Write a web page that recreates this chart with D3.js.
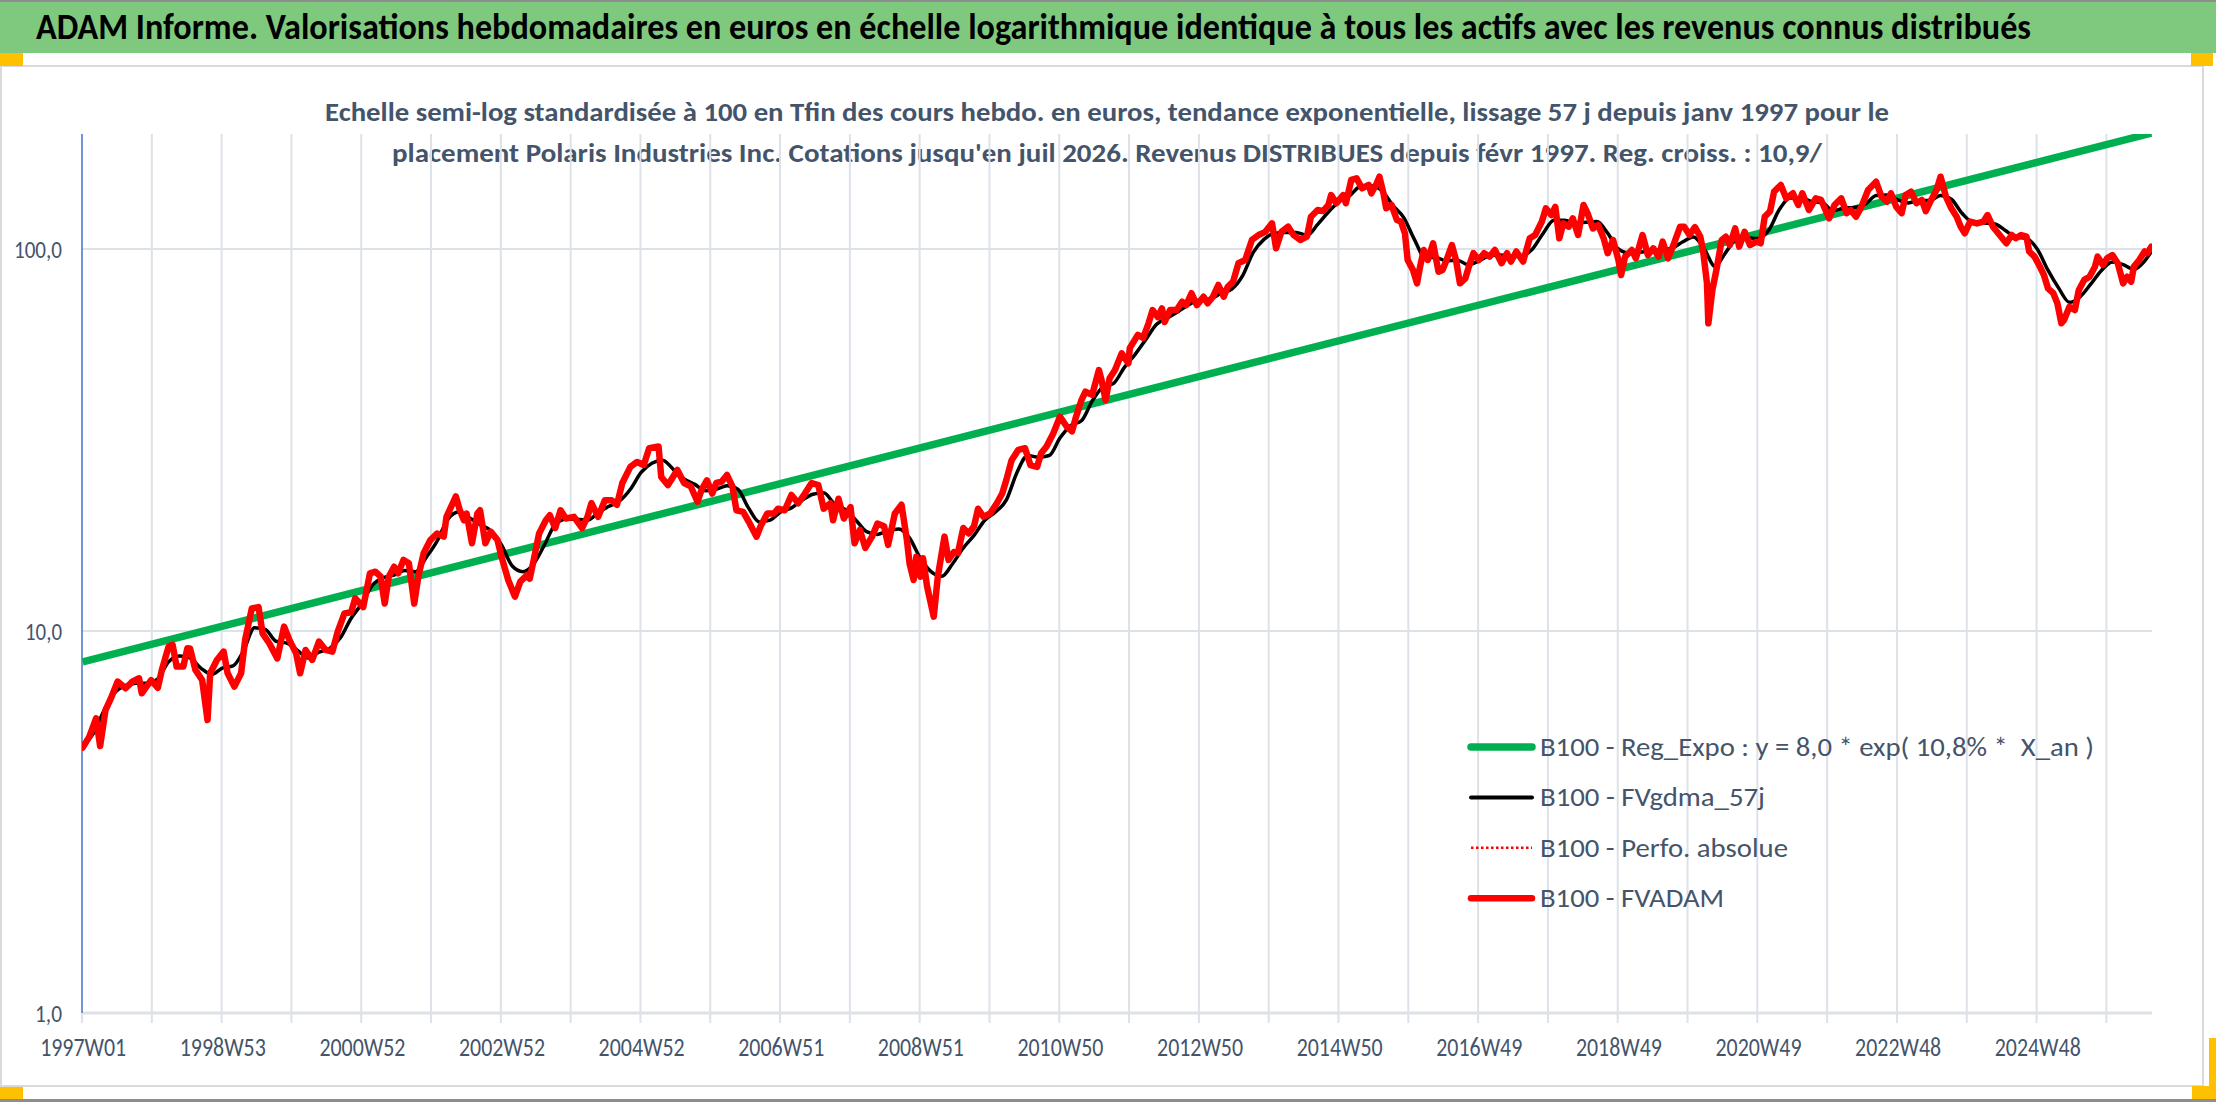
<!DOCTYPE html>
<html>
<head>
<meta charset="utf-8">
<script src="https://cdn.jsdelivr.net/npm/d3@7"></script>
<style>
  html, body { margin: 0; padding: 0; background: #fff; }
  svg { display: block; }
  text { font-family: Carlito, "Liberation Sans Narrow", "Liberation Sans", Arial, sans-serif; white-space: pre; }
</style>
</head>
<body>
<svg id="viz" width="2216" height="1102"></svg>
<script>
/** ---------- data ---------- */
const titleText = "ADAM Informe. Valorisations hebdomadaires en euros en échelle logarithmique identique à tous les actifs avec les revenus connus distribués";
const subtitleLines = [
  "Echelle semi-log standardisée à 100 en Tfin des cours hebdo. en euros, tendance exponentielle, lissage 57 j depuis janv 1997 pour le",
  "placement Polaris Industries Inc. Cotations jusqu'en juil 2026. Revenus DISTRIBUES depuis févr 1997. Reg. croiss. : 10,9/"
];

// category axis: weeks since 1997W01, one label every 104 weeks
const weekCount = 1542;
const tickLabels = ["1997W01", "1998W53", "2000W52", "2002W52", "2004W52", "2006W51", "2008W51", "2010W50",
  "2012W50", "2014W50", "2016W49", "2018W49", "2020W49", "2022W48", "2024W48"];
const yTicks = [1, 10, 100];

const legendLabels = [
  "B100 - Reg_Expo : y = 8,0 * exp( 10,8% *  X_an )",
  "B100 - FVgdma_57j",
  "B100 - Perfo. absolue",
  "B100 - FVADAM"
];

// [week index, value]
const regExpoPoints = [[0, 8.3], [1541, 201]];

const fvadamPoints = [
  [0,4.95],[5,5.29],[10,5.91],[13,5.0],[17,6.21],[21,6.66],[26,7.37],[32,7.08],[37,7.37],[42,7.52],[44,6.87],[51,7.44],
  [56,7.1],[59,7.91],[64,9.1],[67,9.2],[70,8.07],[75,8.07],[78,9.01],[80,9.0],[84,7.91],[89,7.44],[93,5.85],[95,7.75],
  [100,8.4],[105,8.83],[108,7.75],[113,7.15],[118,7.75],[121,9.47],[126,11.46],[131,11.55],[134,9.86],[139,9.29],[145,8.48],
  [150,10.27],[154,9.47],[159,8.74],[162,7.75],[166,8.92],[171,8.4],[176,9.38],[181,8.92],[186,8.83],[190,9.96],[195,11.12],
  [200,11.2],[203,12.18],[209,11.55],[214,14.16],[218,14.3],[222,13.87],[225,11.8],[228,13.87],[232,14.73],[235,14.16],
  [239,15.35],[243,15.04],[247,11.8],[250,13.87],[254,15.97],[259,17.3],
  [264,18.0],[269,17.66],[271,19.9],[278,22.5],[281,20.7],[284,19.5],[286,20.3],[290,16.97],[294,20.3],[296,20.7],[300,16.97],
  [304,18.2],[309,17.3],[312,15.65],[317,13.6],[322,12.3],[326,13.47],[331,14.0],[333,13.7],[336,15.35],[340,18.0],[345,19.5],
  [348,20.1],[352,18.6],[356,20.7],[360,19.7],[366,19.9],[372,18.6],[376,19.9],[379,21.6],[384,19.9],[389,22.0],[394,22.0],
  [398,21.4],[402,24.4],[408,26.9],[413,27.7],[418,27.2],[422,30.1],[429,30.4],[431,25.3],[436,24.1],[443,26.4],[448,24.4],
  [453,23.9],[458,21.8],[461,23.4],[465,24.8],[469,22.9],[472,24.4],[476,24.6],[480,25.6],[484,23.9],[487,20.7],[492,20.5],
  [497,19.1],[502,17.66],[505,18.8],[510,20.3],[515,20.3],[518,20.9],
  [523,20.7],[528,22.7],[533,21.6],[538,22.9],[543,24.4],[548,24.1],[552,20.9],[557,21.6],[559,19.5],[563,22.2],[567,19.7],
  [572,21.1],[575,16.97],[579,18.4],[583,16.5],[588,17.66],[592,19.1],[597,18.8],[600,16.8],[605,20.3],[610,21.4],[614,17.3],
  [616,15.0],[619,13.6],[621,15.65],[624,13.87],[626,15.5],[629,13.1],[634,10.9],[637,13.87],[642,17.66],[645,15.35],[649,16.1],
  [652,16.0],[656,18.6],[660,18.0],[664,18.8],[667,20.9],[671,19.9],[676,20.3],[681,21.6],[685,22.9],[688,24.8],[692,28.0],
  [697,29.8],[702,30.1],[706,27.2],[711,26.9],[714,29.2],[718,30.4],[723,32.9],[728,36.4],[733,34.3],[737,33.3],[740,36.4],
  [744,40.2],[747,42.3],[752,41.5],[757,48.2],[759,45.4],[762,40.2],[765,45.9],[769,48.2],[774,53.3],[779,50.2],
  [780,55.0],[786,59.6],[790,58.5],[794,63.9],[797,69.2],[801,66.3],[804,69.9],[806,64.4],[810,69.2],[815,69.2],[819,72.8],
  [822,71.3],[826,76.6],[830,71.3],[835,75.0],[838,72.1],[842,75.0],[846,80.5],[850,75.0],[853,79.6],[857,82.1],[861,91.8],
  [866,93.6],[871,105.6],[876,108.8],[881,110.9],[886,116.7],[889,100.4],[893,110.9],[898,114.4],[902,108.8],[907,105.6],
  [912,107.7],[915,121.5],[920,126.5],[924,125.6],[928,130.4],[930,138.4],[934,131.8],[939,138.4],[941,131.8],[945,151.6],
  [949,153.1],[953,144.2],[958,147.1],[960,139.9],[964,148.6],[966,154.6],[969,139.9],[971,127.8],[975,130.4],[979,119.1],
  [982,118.0],[985,109.9],[987,93.6],[991,88.1],[994,81.3],[996,89.0],[999,99.4],[1002,93.6],[1006,103.5],[1010,87.2],
  [1013,88.1],[1016,93.6],[1020,102.4],[1023,93.6],[1026,81.3],[1030,83.8],[1033,90.8],[1036,97.5],[1040,93.6],
  [1044,97.5],[1048,95.5],[1052,99.4],[1057,91.8],[1061,97.5],[1064,92.7],[1068,98.5],[1073,92.7],[1078,106.7],[1082,108.8],
  [1087,118.0],[1090,127.8],[1094,122.7],[1097,128.9],[1100,106.7],[1103,116.7],[1107,114.4],[1110,120.3],[1114,108.8],
  [1118,130.4],[1121,124.1],[1125,113.2],[1129,115.6],[1133,106.7],[1136,97.5],[1140,105.6],[1144,93.6],[1146,85.5],[1149,95.5],
  [1154,99.4],[1157,94.5],[1162,108.8],[1166,96.4],[1170,100.4],[1174,95.5],[1177,104.5],[1181,94.5],[1185,102.4],[1190,114.4],
  [1193,114.4],[1197,108.8],[1201,114.1],[1205,107.7],[1207,99.4],[1210,81.3],[1211,63.9],[1214,78.1],[1217,88.1],[1221,105.6],
  [1224,107.7],[1227,102.4],[1231,113.2],[1234,101.4],[1238,110.9],[1242,102.4],[1247,104.5],[1250,103.5],[1253,121.5],
  [1257,125.6],[1260,141.3],[1265,147.1],[1269,135.7],[1274,139.9],[1278,130.4],[1281,139.9],[1286,126.5],[1291,135.7],[1295,134.4],
  [1301,120.3],[1305,130.4],[1310,135.7],[1314,124.1],[1317,126.5],[1321,121.5],[1325,128.9],[1330,142.7],[1336,150.0],
  [1340,137.1],[1344,133.0],[1347,139.9],[1351,128.9],[1355,124.1],[1358,138.4],[1362,141.3],[1366,131.8],[1370,134.4],
  [1373,125.6],[1377,134.4],[1381,142.7],[1384,154.6],[1388,137.1],[1392,127.8],[1396,121.5],[1399,114.4],[1402,109.9],
  [1406,118.0],[1411,116.7],[1416,118.0],[1419,122.7],[1423,114.4],[1428,108.8],[1433,103.5],[1437,108.8],[1440,106.7],
  [1444,108.8],[1448,107.7],[1450,98.5],[1454,95.5],[1458,89.9],[1461,85.5],[1464,78.9],[1468,76.6],[1471,72.1],[1474,63.9],
  [1476,65.2],[1480,70.6],[1484,69.2],[1487,78.1],[1491,83.0],[1495,84.6],[1499,89.9],[1501,95.5],[1505,90.8],[1508,94.5],
  [1512,96.4],[1516,91.8],[1520,81.3],[1523,84.6],[1526,82.1],[1528,89.9],[1532,93.6],[1536,98.5],[1538,97.5],[1541,101.4]
];

// smoothed series, mostly hidden under the red one
const fvgdmaPoints = [
  [0,5.0],[8,5.4],[16,6.2],[24,6.9],[32,7.2],[40,7.3],[48,7.3],[56,7.5],[64,8.3],[72,8.6],[80,8.5],[88,8.0],[96,7.7],
  [104,8.0],[112,8.1],[120,8.9],[128,10.2],[136,10.1],[144,9.4],[152,9.3],[160,8.9],[168,8.5],[176,8.8],[184,9.0],[192,9.6],
  [200,10.8],[208,11.8],[216,13.2],[224,13.8],[232,14.0],[240,14.4],[248,14.3],[256,15.6],[264,17.2],[272,19.6],[280,20.5],
  [288,19.8],[296,19.0],[304,18.3],[312,16.8],[320,14.8],[328,14.3],[336,15.0],[344,16.8],[352,19.0],[360,19.6],[368,19.6],
  [376,19.5],[384,20.4],[392,21.2],[400,21.9],[408,23.5],[416,26.0],[424,27.5],[432,28.0],[440,26.5],[448,25.0],[456,24.2],
  [464,23.3],[472,23.5],[480,24.0],[488,23.5],[496,21.0],[504,19.3],[512,19.5],[520,20.5],[528,21.0],[536,22.0],[544,22.8],
  [552,23.0],[560,21.5],[568,20.8],[576,19.5],[584,18.2],[592,17.9],[600,18.3],[608,18.5],[616,17.5],[624,15.5],[632,14.3],
  [640,13.9],[648,15.0],[656,16.5],[664,17.8],[672,19.5],[680,20.5],[688,22.0],[696,26.0],[704,28.8],[712,28.5],[720,28.8],
  [728,32.0],[736,34.5],[744,35.5],[752,40.0],[760,43.5],[768,44.5],[776,49.0],[784,53.0],[792,58.0],[800,63.5],[808,66.0],
  [816,68.5],[824,71.5],[832,73.5],[840,74.0],[848,76.5],[856,78.5],[864,85.0],[872,98.0],[880,106.0],[888,110.0],[896,110.5],
  [904,110.5],[912,108.5],[920,116.0],[928,125.0],[936,133.0],[944,138.0],[952,146.0],[960,146.5],[968,142.0],[976,130.0],
  [984,121.0],[992,106.0],[1000,95.0],[1008,95.0],[1016,93.0],[1024,93.5],[1032,91.0],[1040,93.0],[1048,96.0],[1056,96.5],
  [1064,95.5],[1072,96.0],[1080,100.0],[1088,110.0],[1096,119.0],[1104,119.0],[1112,117.0],[1120,117.5],[1128,118.0],
  [1136,110.0],[1144,100.0],[1152,97.5],[1160,98.0],[1168,99.0],[1176,99.5],[1184,100.5],[1192,104.5],[1200,107.5],
  [1208,100.0],[1216,90.0],[1224,98.0],[1232,106.0],[1240,107.0],[1248,106.5],[1256,112.0],[1264,127.0],[1272,136.0],
  [1280,136.0],[1288,133.0],[1296,132.0],[1304,126.0],[1312,128.0],[1320,128.5],[1328,131.0],[1336,138.0],[1344,138.5],
  [1352,134.5],[1360,132.0],[1368,134.0],[1376,134.0],[1384,138.0],[1392,135.0],[1400,124.0],[1408,117.5],[1416,117.0],
  [1424,116.5],[1432,112.0],[1440,107.5],[1448,106.5],[1456,100.0],[1464,88.0],[1472,79.0],[1480,72.5],[1488,75.0],
  [1496,81.0],[1504,88.0],[1512,92.5],[1520,91.0],[1528,88.5],[1536,93.0],[1541,98.5]
];

/** ---------- layout ---------- */
const W = 2216, H = 1102;
const plot = { left: 82, right: 2152, top: 134, bottom: 1013 };
const textColor = "#44546a";
const gridColor = "#dde1e8";

const svg = d3.select("#viz");

const x = d3.scaleLinear().domain([0, weekCount]).range([plot.left, plot.right]);
const y = d3.scaleLog().domain([1, 200]).range([plot.bottom, plot.top]);
const xMid = i => x(i + 0.5); // categories sit between tick marks

/** ---------- frame: header band, chart area, selection handles ---------- */
svg.append("rect").attr("width", W).attr("height", H).attr("fill", "#fff");
svg.append("rect").attr("x", 0).attr("y", 0).attr("width", W).attr("height", 2).attr("fill", "#8d8d8d");
svg.append("rect").attr("x", 0).attr("y", 2).attr("width", W).attr("height", 51).attr("fill", "#7fc97f");
svg.append("rect").attr("x", 0).attr("y", 1099).attr("width", W).attr("height", 3).attr("fill", "#8d8d8d");

svg.append("rect")
  .attr("x", 1).attr("y", 66)
  .attr("width", 2202).attr("height", 1020)
  .attr("fill", "#fff")
  .attr("stroke", "#d9d9d9").attr("stroke-width", 2);

const handles = [[0, 53, 23, 13], [2191, 53, 22, 13], [0, 1087, 23, 12], [2192, 1086, 24, 13], [2209, 1038, 7, 48]];
svg.selectAll("rect.handle")
  .data(handles)
  .join("rect")
  .attr("class", "handle")
  .attr("x", d => d[0]).attr("y", d => d[1])
  .attr("width", d => d[2]).attr("height", d => d[3])
  .attr("fill", "#ffc000");

svg.append("text")
  .attr("x", 36).attr("y", 39)
  .attr("font-size", 36).attr("font-weight", "bold")
  .attr("fill", "#000")
  .attr("textLength", 1995).attr("lengthAdjust", "spacingAndGlyphs")
  .text(titleText);

const subLens = [1564, 1430];
svg.selectAll("text.subtitle")
  .data(subtitleLines)
  .join("text")
  .attr("class", "subtitle")
  .attr("x", 1107).attr("y", (d, i) => 121 + i * 41)
  .attr("text-anchor", "middle")
  .attr("font-size", 26).attr("font-weight", "bold")
  .attr("fill", textColor)
  .attr("textLength", (d, i) => subLens[i]).attr("lengthAdjust", "spacingAndGlyphs")
  .text(d => d);

/** ---------- grid and axes ---------- */
const grid = svg.append("g").attr("class", "grid");

grid.selectAll("line.vgrid")
  .data(d3.range(52, weekCount, 52))
  .join("line")
  .attr("class", "vgrid")
  .attr("x1", d => x(d)).attr("x2", d => x(d))
  .attr("y1", plot.top).attr("y2", plot.bottom + 10)
  .attr("stroke", gridColor).attr("stroke-width", 2);

grid.selectAll("line.hgrid")
  .data(yTicks)
  .join("line")
  .attr("class", "hgrid")
  .attr("x1", plot.left).attr("x2", plot.right)
  .attr("y1", d => y(d)).attr("y2", d => y(d))
  .attr("stroke", gridColor).attr("stroke-width", d => d === 1 ? 3 : 2);

// tick mark under the axis origin
grid.append("line")
  .attr("x1", plot.left).attr("x2", plot.left)
  .attr("y1", plot.bottom).attr("y2", plot.bottom + 10)
  .attr("stroke", gridColor).attr("stroke-width", 2);

const fmt = d => d3.format(".1f")(d).replace(".", ",");
const yAxis = svg.append("g")
  .attr("transform", `translate(${plot.left},0)`)
  .call(d3.axisLeft(y).tickValues(yTicks).tickFormat(fmt).tickSize(0).tickPadding(20));
yAxis.select(".domain").remove();
yAxis.selectAll("text")
  .attr("font-size", 25)
  .attr("fill", textColor)
  .attr("dy", "0.33em")
  .attr("textLength", d => ({ 1: 27, 10: 37, 100: 48 })[d])
  .attr("lengthAdjust", "spacingAndGlyphs");

const xAxis = svg.append("g")
  .attr("transform", `translate(0,${plot.bottom})`)
  .call(d3.axisBottom(x)
    .tickValues(tickLabels.map((t, i) => i * 104 + 0.5))
    .tickFormat((d, i) => tickLabels[i])
    .tickSize(0).tickPadding(24));
xAxis.select(".domain").remove();
xAxis.selectAll("text")
  .attr("font-size", 27)
  .attr("fill", textColor)
  .attr("textLength", 86)
  .attr("lengthAdjust", "spacingAndGlyphs");

svg.append("line")
  .attr("x1", plot.left).attr("x2", plot.left)
  .attr("y1", plot.top).attr("y2", plot.bottom)
  .attr("stroke", "#4472c4").attr("stroke-width", 1.5);

/** ---------- series ---------- */
svg.append("defs").append("clipPath").attr("id", "plot-clip")
  .append("rect")
  .attr("x", plot.left).attr("y", plot.top)
  .attr("width", plot.right - plot.left).attr("height", plot.bottom - plot.top);

const line = d3.line().x(d => xMid(d[0])).y(d => y(d[1]));
const series = svg.append("g").attr("clip-path", "url(#plot-clip)");

series.append("path").datum(regExpoPoints)
  .attr("d", line).attr("fill", "none")
  .attr("stroke", "#00b050").attr("stroke-width", 7.5);

series.append("path").datum(fvgdmaPoints)
  .attr("d", line.curve(d3.curveMonotoneX)).attr("fill", "none")
  .attr("stroke", "#000").attr("stroke-width", 3.5).attr("stroke-linejoin", "round");
line.curve(d3.curveLinear);

series.append("path").datum(fvadamPoints)
  .attr("d", line).attr("fill", "none")
  .attr("stroke", "#ff0000").attr("stroke-width", 1.5).attr("stroke-dasharray", "2,2");

series.append("path").datum(fvadamPoints)
  .attr("d", line).attr("fill", "none")
  .attr("stroke", "#ff0000").attr("stroke-width", 6.5)
  .attr("stroke-linejoin", "round").attr("stroke-linecap", "round");

/** ---------- legend ---------- */
const legendStyles = [
  { color: "#00b050", width: 7.5, dash: null, len: 554 },
  { color: "#000", width: 4, dash: null, len: 225 },
  { color: "#ff0000", width: 2.5, dash: "2.5,2.5", len: 248 },
  { color: "#ff0000", width: 6.5, dash: null, len: 184 }
];

const legend = svg.append("g").attr("class", "legend");
const item = legend.selectAll("g")
  .data(legendLabels)
  .join("g")
  .attr("transform", (d, i) => `translate(1469,${747 + i * 50.4})`);

item.append("line")
  .attr("x1", 2).attr("x2", 63)
  .attr("stroke", (d, i) => legendStyles[i].color)
  .attr("stroke-width", (d, i) => legendStyles[i].width)
  .attr("stroke-dasharray", (d, i) => legendStyles[i].dash)
  .attr("stroke-linecap", (d, i) => legendStyles[i].dash ? "butt" : "round");

item.append("text")
  .attr("x", 71).attr("y", 9)
  .attr("font-size", 26)
  .attr("fill", textColor)
  .attr("textLength", (d, i) => legendStyles[i].len)
  .attr("lengthAdjust", "spacingAndGlyphs")
  .text(d => d);
</script>
</body>
</html>
